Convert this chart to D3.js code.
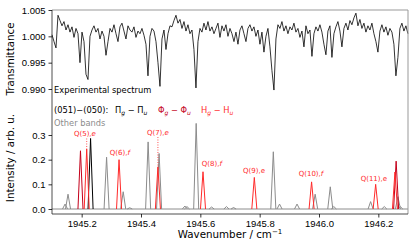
<!DOCTYPE html>
<html lang="en">
<head>
    <meta charset="UTF-8">
    <title>Transmittance and stick spectrum</title>
    <style>
        body{ margin:0; background:#fff; }
        svg{ font-family:"DejaVu Sans", sans-serif; }
        .axis .domain{ display:none; }
        .axis text{ font-size:9.5px; fill:#000; }
        .axis line{ stroke:#000; stroke-width:0.8; }
    </style>
</head>
<body>
    <svg width="415" height="249"></svg>
    <script src="https://d3js.org/d3.v7.min.js"></script>
    <script>
        // measured transmittance, one value every 2 px across the plot (from 1945.10)
        var transStart = 1945.10, transStep = 0.00674;
        var transmittance = [
            1.0003, 0.9990, 0.9978, 1.0040, 1.0030, 1.0020, 1.0028, 1.0012, 1.0022, 1.0008,
            1.0018, 0.9998, 1.0015, 1.0005, 0.9950, 1.0008, 0.9990, 0.9928, 0.9918, 1.0000,
            1.0012, 1.0020, 1.0008, 1.0015, 0.9995, 1.0010, 1.0000, 0.9964, 0.9990, 1.0015,
            1.0008, 1.0022, 1.0005, 0.9990, 1.0018, 1.0025, 1.0010, 0.9995, 1.0020, 1.0012,
            1.0008, 1.0018, 0.9998, 1.0010, 1.0005, 1.0015, 1.0002, 0.9985, 0.9925, 1.0000,
            1.0015, 1.0010, 0.9990, 0.9950, 0.9905, 0.9995, 1.0012, 0.9975, 1.0005, 1.0020,
            1.0018, 1.0030, 1.0040, 1.0025, 1.0032, 1.0015, 1.0028, 1.0010, 1.0022, 1.0005,
            1.0012, 0.9975, 0.9902, 0.9990, 1.0015, 1.0008, 1.0025, 1.0012, 1.0028, 1.0010,
            1.0018, 1.0005, 1.0015, 1.0025, 0.9998, 1.0020, 1.0010, 1.0022, 1.0000, 1.0015,
            1.0005, 0.9990, 1.0008, 0.9985, 1.0012, 1.0020, 1.0005, 0.9990, 1.0015, 1.0022,
            1.0010, 1.0018, 1.0000, 1.0012, 0.9985, 1.0008, 0.9970, 1.0000, 1.0015, 0.9980,
            0.9935, 0.9898, 0.9995, 1.0022, 1.0015, 1.0028, 1.0010, 1.0020, 1.0005, 1.0018,
            1.0012, 1.0025, 1.0008, 1.0015, 0.9998, 1.0010, 0.9980, 1.0020, 1.0005, 1.0012,
            0.9962, 1.0005, 1.0018, 1.0010, 1.0022, 1.0008, 0.9985, 0.9965, 1.0010, 1.0020,
            0.9960, 1.0005, 1.0018, 1.0028, 1.0010, 0.9980, 1.0015, 1.0025, 1.0012, 1.0030,
            1.0022, 1.0035, 1.0044, 1.0020, 1.0032, 1.0015, 1.0025, 1.0008, 1.0020, 1.0012,
            1.0025, 1.0005, 0.9990, 0.9970, 1.0010, 1.0022, 1.0008, 1.0018, 1.0002, 1.0015,
            1.0008, 0.9985, 0.9925, 0.9960, 1.0015, 1.0025, 1.0010, 1.0020, 1.0005
        ];

        // stick positions (cm-1) and intensities
        var otherPos = [1945.144, 1945.154, 1945.284, 1945.340, 1945.362, 1945.424, 1945.461, 1945.548, 1945.555,
                        1945.586, 1945.638, 1945.688, 1945.712, 1945.846, 1945.867, 1945.926, 1945.987, 1946.038,
                        1946.050, 1946.174, 1946.220, 1946.266, 1946.274];
        var otherInt = [0.02, 0.06, 0.21, 0.07, 0.005, 0.272, 0.225, 0.012, 0.01,
                        0.347, 0.008, 0.01, 0.006, 0.232, 0.02, 0.02, 0.06, 0.09,
                        0.01, 0.03, 0.01, 0.05, 0.01];
        var piPos = [1945.230];
        var piInt = [0.286];
        var phiPos = [1945.196, 1946.260];
        var phiInt = [0.236, 0.194];
        var hPos = [1945.217, 1945.326, 1945.457, 1945.609, 1945.782, 1945.975, 1946.191, 1946.256];
        var hInt = [0.243, 0.200, 0.171, 0.151, 0.128, 0.110, 0.100, 0.150];

        // Q branch labels, anchored in data units
        var qText = ["5", "6", "7", "8", "9", "10", "11"];
        var qParity = ["e", "f", "e", "f", "e", "f", "e"];
        var qItalic = [true, true, true, true, false, true, false];
        var qLabelPos = [1945.211, 1945.329, 1945.457, 1945.639, 1945.781, 1945.973, 1946.185];
        var qLabelInt = [0.294, 0.219, 0.300, 0.174, 0.146, 0.134, 0.114];
        var qDotted = [0, 2];   // labels joined to their peak by a dotted line

        var xTicks = [1945.2, 1945.4, 1945.6, 1945.8, 1946.0, 1946.2];
        var tTicks = [0.990, 0.995, 1.000, 1.005];
        var iTicks = [0.0, 0.1, 0.2, 0.3];

        var svg = d3.select("svg"),
            plotL = 52, plotR = 408, plotT = 10, plotB = 214;

        var x = d3.scaleLinear().domain([1945.10, 1946.30]).range([plotL, plotR]);
        var yT = d3.scaleLinear().domain([0.990, 1.005]).range([89, plotT]);
        var yI = d3.scaleLinear().domain([0, 0.3]).range([209, 135]);

        var colPhi = "#c4001a", colH = "#ff2a2a", colOther = "#8c8c8c";
        var halfBase = 0.0085;

        // upper trace
        var trace = transmittance.map(function(v, i){ return [transStart + i * transStep, v]; });
        svg.append("path")
            .datum(trace)
            .attr("fill", "none")
            .attr("stroke", "#000")
            .attr("stroke-width", 0.8)
            .attr("d", d3.line().x(function(d){ return x(d[0]); }).y(function(d){ return yT(d[1]); }));

        // zero line of the stick spectrum
        svg.append("path")
            .datum(x.domain())
            .attr("stroke", colOther)
            .attr("stroke-width", 1)
            .attr("d", function(d){ return "M" + x(d[0]) + "," + yI(0) + "H" + x(d[1]); });

        function peaks(pos, ints, colour){
            var data = pos.map(function(p, i){ return [p, ints[i]]; });
            svg.append("g").selectAll("path")
                .data(data)
                .enter().append("path")
                .attr("fill", "none")
                .attr("stroke", colour)
                .attr("stroke-width", 1)
                .attr("stroke-linejoin", "round")
                .attr("d", function(d){
                    return "M" + x(d[0] - halfBase) + "," + yI(0) +
                           "L" + x(d[0]) + "," + yI(d[1]) +
                           "L" + x(d[0] + halfBase) + "," + yI(0);
                });
        }
        peaks(otherPos, otherInt, colOther);
        peaks(piPos, piInt, "#000");
        peaks(phiPos, phiInt, colPhi);
        peaks(hPos, hInt, colH);

        // dotted leaders
        qDotted.forEach(function(k){
            svg.append("line")
                .attr("x1", x(hPos[k])).attr("x2", x(hPos[k]))
                .attr("y1", yI(qLabelInt[k]) + 2).attr("y2", yI(hInt[k]))
                .attr("stroke", colH)
                .attr("stroke-width", 0.8)
                .attr("stroke-dasharray", "1,1.5");
        });

        // Q labels
        var ql = svg.append("g")
            .attr("font-size", 7)
            .attr("fill", colH)
            .attr("text-anchor", "middle")
            .selectAll("text")
            .data(qText)
            .enter().append("text")
            .attr("x", function(d, i){ return x(qLabelPos[i]); })
            .attr("y", function(d, i){ return yI(qLabelInt[i]); });
        ql.append("tspan").text(function(d){ return "Q(" + d + "),"; });
        ql.append("tspan")
            .attr("font-style", function(d, i){ return qItalic[i] ? "italic" : "normal"; })
            .text(function(d, i){ return qParity[i]; });

        // frame: top/right lighter, left/bottom dark
        svg.append("path")
            .attr("fill", "none")
            .attr("stroke", "#999")
            .attr("stroke-width", 1)
            .attr("d", "M" + plotL + "," + plotT + "H" + plotR + "V" + plotB);
        svg.append("path")
            .attr("fill", "none")
            .attr("stroke", "#222")
            .attr("stroke-width", 0.8)
            .attr("d", "M" + plotL + "," + plotT + "V" + plotB + "H" + plotR);

        // axes
        svg.append("g")
            .attr("class", "axis")
            .attr("transform", "translate(0," + plotB + ")")
            .call(d3.axisBottom(x).tickValues(xTicks).tickFormat(d3.format(".1f")).tickSizeOuter(0).tickSize(3.5).tickPadding(3));

        svg.append("g")
            .attr("class", "axis")
            .attr("transform", "translate(" + plotL + ",0)")
            .call(d3.axisLeft(yT).tickValues(tTicks).tickFormat(d3.format(".3f")).tickSizeOuter(0).tickSize(3.5).tickPadding(3));

        svg.append("g")
            .attr("class", "axis")
            .attr("transform", "translate(" + plotL + ",0)")
            .call(d3.axisLeft(yI).tickValues(iTicks).tickFormat(d3.format(".1f")).tickSizeOuter(0).tickSize(3.5).tickPadding(3));

        // axis titles
        svg.append("text")
            .attr("transform", "translate(14,59) rotate(-90)")
            .attr("text-anchor", "middle")
            .attr("font-size", 10.3)
            .text("Transmittance");

        svg.append("text")
            .attr("transform", "translate(14,158) rotate(-90)")
            .attr("text-anchor", "middle")
            .attr("font-size", 10.3)
            .text("Intensity / arb. u.");

        var xt = svg.append("text")
            .attr("x", 230)
            .attr("y", 238)
            .attr("text-anchor", "middle")
            .attr("font-size", 10.3);
        xt.append("tspan").text("Wavenumber / cm");
        xt.append("tspan").attr("font-size", 7).attr("dy", -4).text("\u22121");

        // legend texts
        var lg = svg.append("g").attr("font-size", 8.3);
        lg.append("text").attr("x", 54).attr("y", 93).text("Experimental spectrum");
        lg.append("text").attr("x", 54).attr("y", 113).text("(051)\u2212(050):");

        function term(xPos, sym, colour){
            var t = lg.append("text").attr("x", xPos).attr("y", 113).attr("fill", colour);
            t.append("tspan").text(sym);
            t.append("tspan").attr("font-size", 6).attr("font-style", "italic").attr("dy", 2).text("g");
            t.append("tspan").attr("dy", -2).text(" \u2212 " + sym);
            t.append("tspan").attr("font-size", 6).attr("font-style", "italic").attr("dy", 2).text("u");
        }
        term(115, "\u03a0", "#000");
        term(158, "\u03a6", colPhi);
        term(201, "H", colH);

        lg.append("text").attr("x", 54).attr("y", 126).attr("fill", colOther).text("Other bands");
    </script>
</body>
</html>
